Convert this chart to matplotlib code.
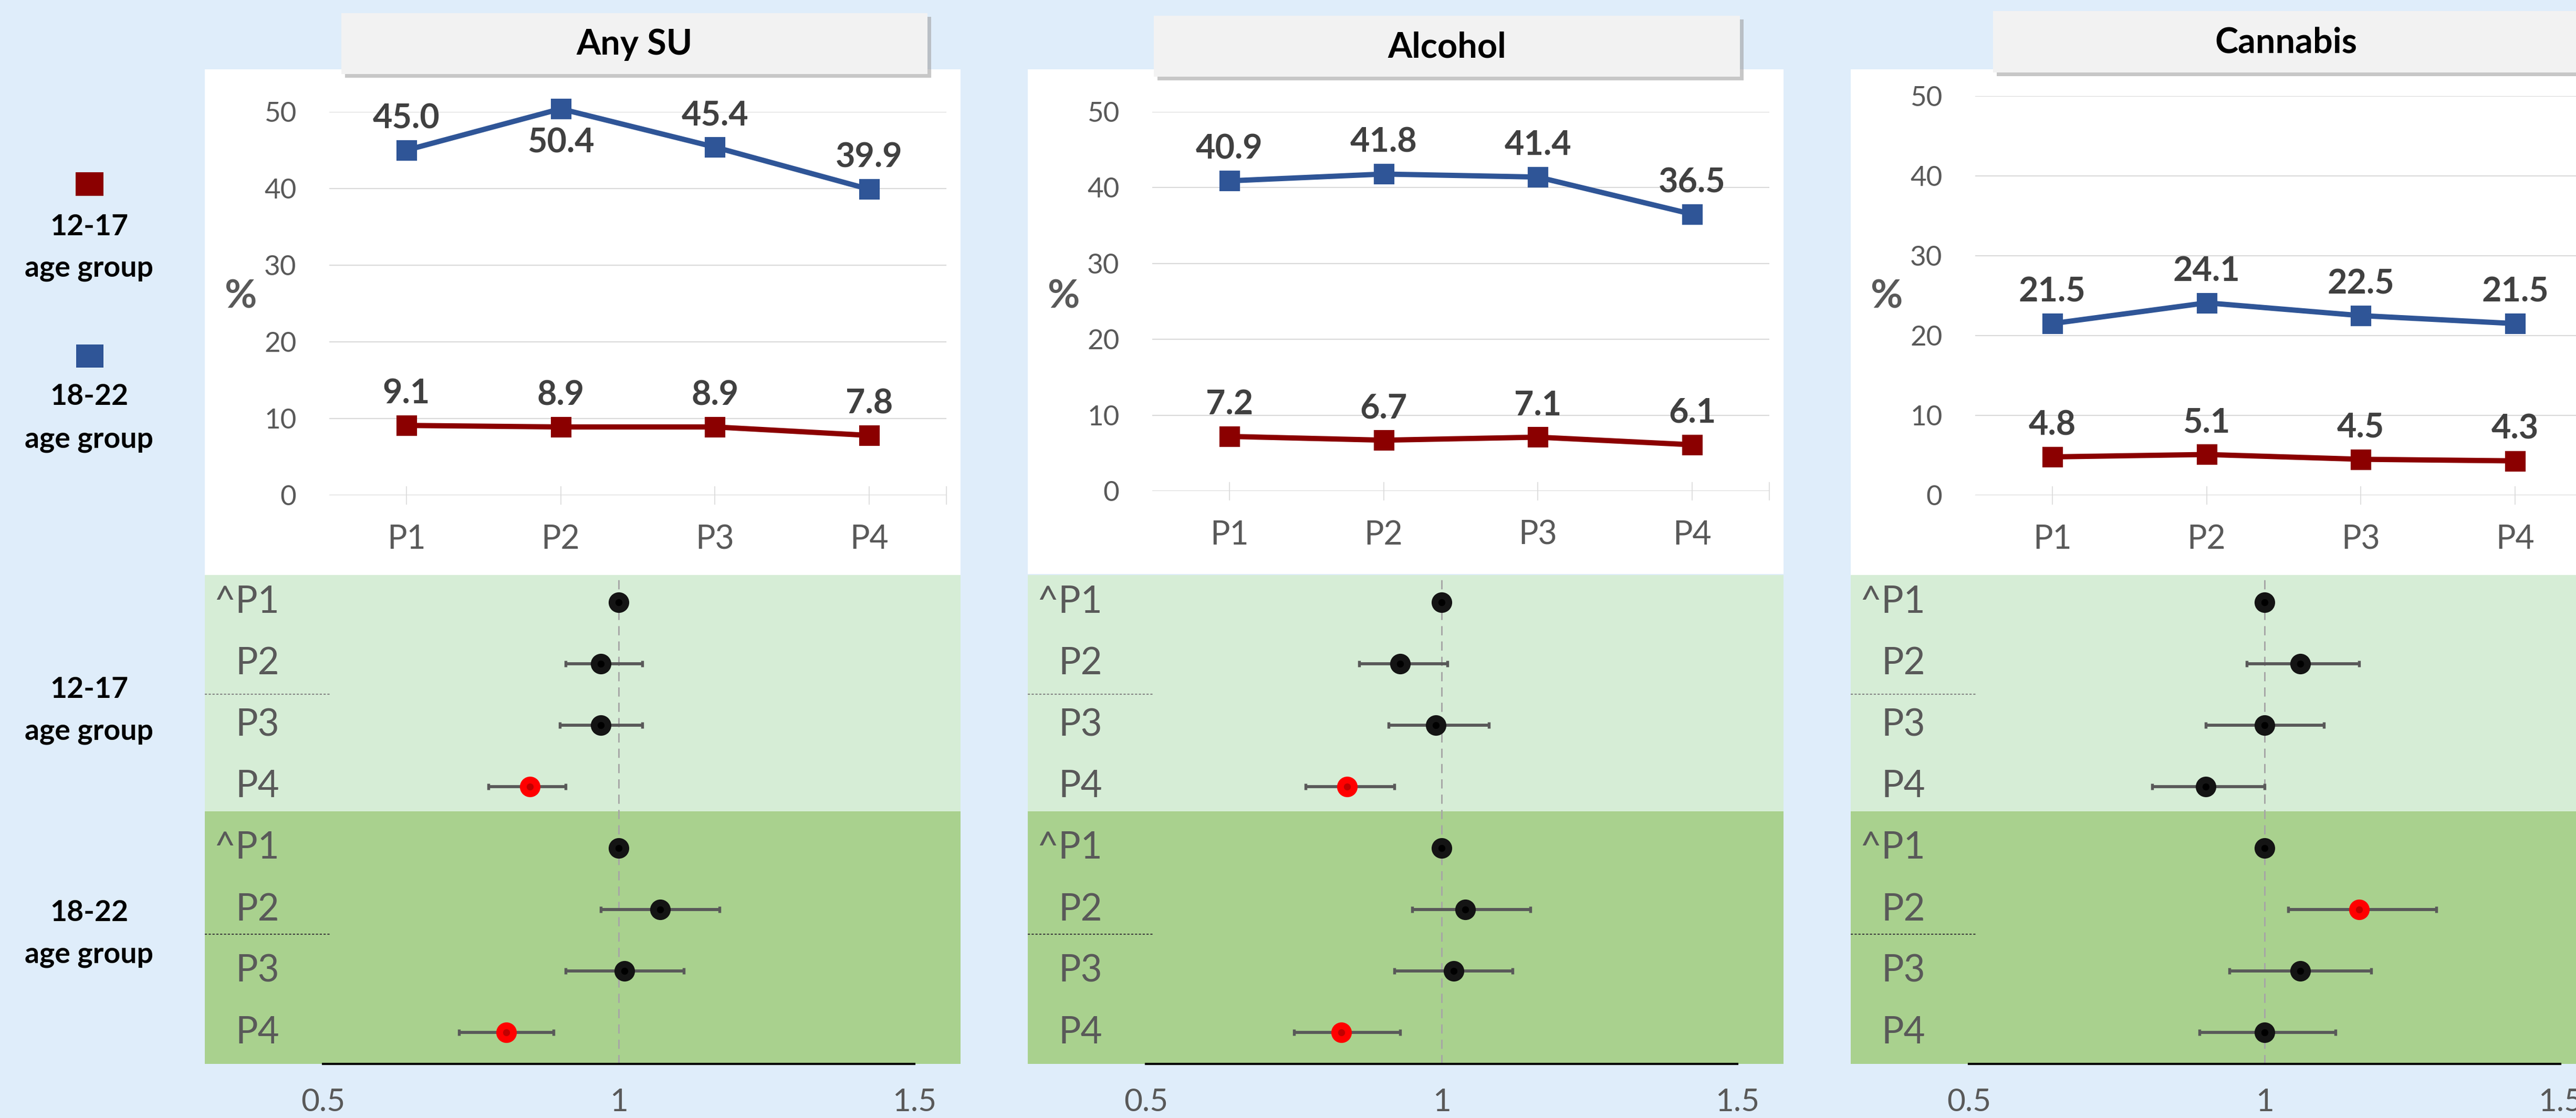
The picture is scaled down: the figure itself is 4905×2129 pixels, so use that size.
import matplotlib
matplotlib.use("Agg")
import matplotlib.pyplot as plt
from matplotlib.patches import Rectangle

plt.rcParams['font.family'] = ['Lato', 'DejaVu Sans']

# --- data ---
periods = ['P1', 'P2', 'P3', 'P4']
panel_titles = ['Any SU', 'Alcohol', 'Cannabis']

# prevalence (%) by period
any_su_12_17 = [9.1, 8.9, 8.9, 7.8]
any_su_18_22 = [45.0, 50.4, 45.4, 39.9]
alcohol_12_17 = [7.2, 6.7, 7.1, 6.1]
alcohol_18_22 = [40.9, 41.8, 41.4, 36.5]
cannabis_12_17 = [4.8, 5.1, 4.5, 4.3]
cannabis_18_22 = [21.5, 24.1, 22.5, 21.5]

# ratios vs P1 with 95% CI; rows = 12-17 P1..P4, then 18-22 P1..P4
row_labels = ['^P1', 'P2', 'P3', 'P4', '^P1', 'P2', 'P3', 'P4']
any_su_ratio = [1.00, 0.97, 0.97, 0.85, 1.00, 1.07, 1.01, 0.81]
any_su_low = [1.00, 0.91, 0.90, 0.78, 1.00, 0.97, 0.91, 0.73]
any_su_high = [1.00, 1.04, 1.04, 0.91, 1.00, 1.17, 1.11, 0.89]
alcohol_ratio = [1.00, 0.93, 0.99, 0.84, 1.00, 1.04, 1.02, 0.83]
alcohol_low = [1.00, 0.86, 0.91, 0.77, 1.00, 0.95, 0.92, 0.75]
alcohol_high = [1.00, 1.01, 1.08, 0.92, 1.00, 1.15, 1.12, 0.93]
cannabis_ratio = [1.00, 1.06, 1.00, 0.90, 1.00, 1.16, 1.06, 1.00]
cannabis_low = [1.00, 0.97, 0.90, 0.81, 1.00, 1.04, 0.94, 0.89]
cannabis_high = [1.00, 1.16, 1.10, 1.00, 1.00, 1.29, 1.18, 1.12]

young = [any_su_12_17, alcohol_12_17, cannabis_12_17]
older = [any_su_18_22, alcohol_18_22, cannabis_18_22]
ratios = [any_su_ratio, alcohol_ratio, cannabis_ratio]
lows = [any_su_low, alcohol_low, cannabis_low]
highs = [any_su_high, alcohol_high, cannabis_high]
# (panel, point) of the 18-22 labels that sit under the marker
labels_below = {(0, 1)}

# --- styling ---
W, H, DPI = 4906, 2129, 300
BG = '#DFEDFA'
RED = '#8B0000'
BLUE = '#2F5597'
GREY_TXT = '#595959'
LABEL_TXT = '#404040'
LIGHT_GREEN = '#D6EDD6'
DARK_GREEN = '#A9D18E'

panel_left = [390, 1957, 3524]
panel_w = 1439
white_bottom = [1100, 1093, 1098]
plot_y = [(213, 943), (213, 935), (183, 943)]
title_boxes = [(650, 25, 1766, 141), (2197, 30, 3313, 146), (3795, 21, 4911, 138)]
forest_top, forest_bottom = 1095, 2026
fx_min, fx_max = 0.30, 1.578


def fig_rect(x0, y0, x1, y1):
    return [x0 / W, 1 - y1 / H, (x1 - x0) / W, (y1 - y0) / H]


fig = plt.figure(figsize=(W / DPI, H / DPI), dpi=DPI, facecolor=BG)

# background layer in pixel coordinates
bg = fig.add_axes([0, 0, 1, 1])
bg.set_xlim(0, W)
bg.set_ylim(H, 0)
bg.axis('off')

for i, left in enumerate(panel_left):
    bg.add_patch(Rectangle((left, 132), panel_w, white_bottom[i] - 132,
                           facecolor='white', edgecolor='none', zorder=1))
    x0, y0, x1, y1 = title_boxes[i]
    bg.add_patch(Rectangle((x0 + 7, y0 + 7), x1 - x0, y1 - y0,
                           facecolor='#9A9A9A', alpha=0.55, edgecolor='none', zorder=2))
    bg.add_patch(Rectangle((x0, y0), x1 - x0, y1 - y0,
                           facecolor='#F2F2F2', edgecolor='none', zorder=3))
    bg.text((x0 + x1) / 2, (y0 + y1) / 2 + 2, panel_titles[i], ha='center', va='center',
            fontsize=16, fontweight='bold', color='black', zorder=4)
    bg.text(left + 68, 565, '%', ha='center', va='center', fontsize=18,
            fontweight='bold', color=GREY_TXT, zorder=4)

# legend on the left
bg.add_patch(Rectangle((144, 328), 53, 45, facecolor=RED, edgecolor='none'))
bg.add_patch(Rectangle((145, 656), 52, 44, facecolor=BLUE, edgecolor='none'))
for y, txt in [(432, '12-17'), (511, 'age group'), (755, '18-22'), (837, 'age group'),
               (1313, '12-17'), (1393, 'age group'), (1738, '18-22'), (1818, 'age group')]:
    bg.text(170, y, txt, ha='center', va='center', fontsize=13.3,
            fontweight='bold', color='black')

x = [0.5, 1.5, 2.5, 3.5]

for i, left in enumerate(panel_left):
    # --- prevalence lines ---
    px0 = left + 237
    top, bottom = plot_y[i]
    ax = fig.add_axes(fig_rect(px0, top, px0 + 1175, bottom))
    ax.set_facecolor('none')
    ax.set_xlim(0, 4)
    ax.set_ylim(0, 50)
    for s in ax.spines.values():
        s.set_visible(False)
    ax.set_yticks(range(0, 51, 10))
    ax.grid(axis='y', color='#D9D9D9', lw=0.5)
    ax.set_axisbelow(True)
    ax.tick_params(axis='y', length=0, pad=15, labelsize=12.7, labelcolor=GREY_TXT)
    ax.set_xticks(x)
    ax.set_xticklabels(periods)
    ax.set_xticks([4], minor=True)
    ax.tick_params(axis='x', which='both', length=8.4, direction='inout', color='#D9D9D9',
                   width=0.4, pad=9, labelsize=15, labelcolor=GREY_TXT)

    for vals, col, grp in [(young[i], RED, 0), (older[i], BLUE, 1)]:
        ax.plot(x, vals, color=col, lw=2.4, marker='s', ms=8.4, clip_on=False, zorder=3)
        for j, v in enumerate(vals):
            dy = -15.5 if (grp == 1 and (i, j) in labels_below) else 14.5
            ax.annotate(f'{v:.1f}', (x[j], v), xytext=(0, dy), textcoords='offset points',
                        ha='center', va='center', fontsize=15.5, fontweight='bold',
                        color=LABEL_TXT, zorder=4, annotation_clip=False)

    # --- ratio forest plot ---
    fx = fig.add_axes(fig_rect(left, forest_top, left + panel_w, forest_bottom))
    fx.set_facecolor('none')
    fx.set_xlim(fx_min, fx_max)
    fx.set_ylim(7.51, -0.44)
    fx.axhspan(-0.44, 3.40, color=LIGHT_GREEN, lw=0, zorder=0)
    fx.axhspan(3.40, 7.51, color=DARK_GREEN, lw=0, zorder=0)
    fx.axvline(1, color='#A6A6A6', ls=(0, (6, 4)), lw=0.7, zorder=1)
    fx.plot([fx_min, 0.513], [1.5, 1.5], color='#808080', ls=(0, (2, 1.5)), lw=0.5)
    fx.plot([fx_min, 0.513], [5.4, 5.4], color='#3A3A3A', ls=(0, (2, 1.5)), lw=0.5)

    for r, (val, lo, hi) in enumerate(zip(ratios[i], lows[i], highs[i])):
        if hi > lo:
            fx.errorbar(val, r, xerr=[[val - lo], [hi - val]], fmt='none', ecolor=GREY_TXT,
                        elinewidth=1.4, capsize=1.5, capthick=1.3, zorder=2)
        sig = hi < 1 or lo > 1
        col = '#FF0000' if sig else '#141414'
        fx.plot(val, r, 'o', ms=8.4, color=col, mec=col, zorder=3)
        fx.plot(val, r, 'o', ms=2.2, color='#C00000' if sig else 'black', zorder=4)
        fx.text(0.426, r, row_labels[r], ha='right', va='center', fontsize=17, color=GREY_TXT)

    for name, s in fx.spines.items():
        s.set_visible(name == 'bottom')
    fx.spines['bottom'].set_bounds(0.5, 1.5)
    fx.spines['bottom'].set_linewidth(1.0)
    fx.set_yticks([])
    fx.set_xticks([0.5, 1, 1.5])
    fx.set_xticklabels(['0.5', '1', '1.5'])
    fx.tick_params(axis='x', length=0, pad=11, labelsize=14.5, labelcolor=GREY_TXT)

fig.savefig('out.png', dpi=DPI, facecolor=BG)
